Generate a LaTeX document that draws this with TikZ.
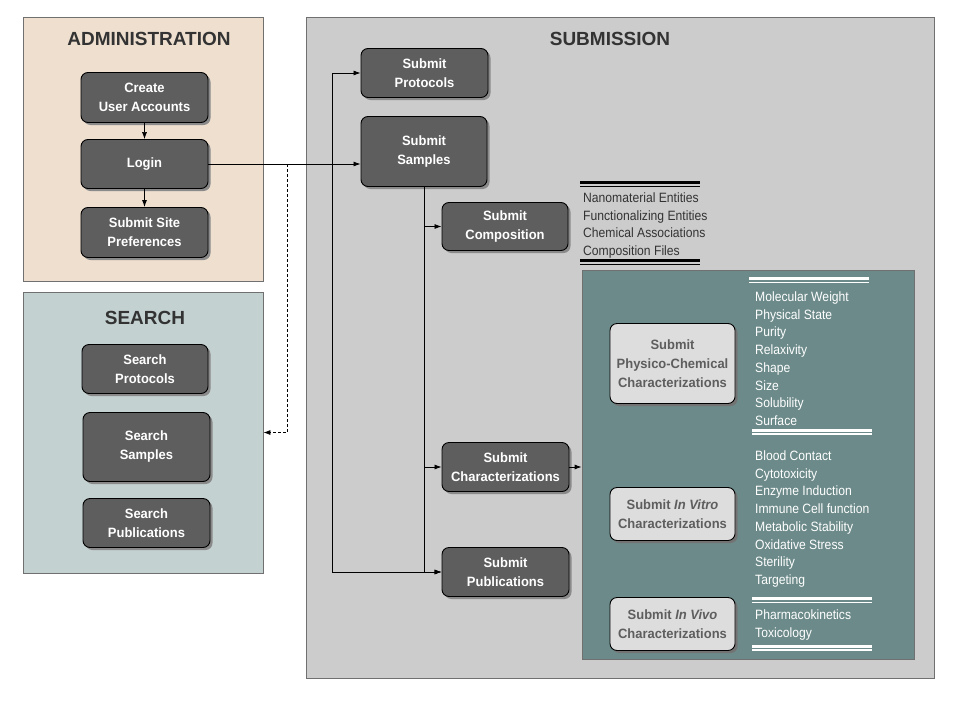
\documentclass[tikz,border=0pt]{standalone}
\usepackage{fontspec}
\setmainfont{Liberation Sans}
\newfontfamily\narrowfont[FakeStretch=0.9]{Liberation Sans}
\newfontfamily\boxfont[FakeStretch=0.96]{Liberation Sans}
\usetikzlibrary{shadows,arrows.meta}
\definecolor{adminbg}{HTML}{EEDFCF}
\definecolor{searchbg}{HTML}{C4D1D1}
\definecolor{subbg}{HTML}{CCCCCC}
\definecolor{tealbg}{HTML}{6B8A89}
\definecolor{boxgray}{HTML}{5E5E5E}
\definecolor{lightbox}{HTML}{DDDDDD}
\definecolor{titlegray}{HTML}{333333}
\definecolor{panelline}{HTML}{707070}
\definecolor{shadowgray}{HTML}{8A8A8A}
\begin{document}
\begin{tikzpicture}[x=1pt,y=-1pt,
  panel/.style={draw=panelline, line width=0.8pt, inner sep=0pt},
  title/.style={font=\bfseries\fontsize{19}{22}\selectfont, text=titlegray, inner sep=0pt},
  darkbox/.style={draw=black, line width=0.9pt, rounded corners=7pt, fill=boxgray,
    text=white, font=\boxfont\bfseries\fontsize{13.5}{19}\selectfont, align=center, inner sep=0pt,
    drop shadow={shadow xshift=2.5pt, shadow yshift=-2.5pt, fill=shadowgray, opacity=1}},
  lightboxst/.style={draw=black, line width=0.9pt, rounded corners=7pt, fill=lightbox,
    text=boxgray, font=\boxfont\bfseries\fontsize{13.5}{19}\selectfont, align=center, inner sep=0pt,
    drop shadow={shadow xshift=2.5pt, shadow yshift=-2.5pt, fill=black!55, opacity=1}},
  conn/.style={line width=0.8pt, -{Latex[length=7pt,width=5pt]}},
  listtext/.style={font=\narrowfont\fontsize{13.5}{17.75}\selectfont, align=left, inner sep=0pt, anchor=north west}
]
\useasboundingbox (0,0) rectangle (960,720);

% panels
\node[panel, fill=adminbg, minimum width=240pt, minimum height=264pt] (adminpanel) at (143,149) {};
\node[panel, fill=searchbg, minimum width=240pt, minimum height=281pt] (searchpanel) at (143,432.5) {};
\node[panel, fill=subbg, minimum width=628pt, minimum height=661pt] (subpanel) at (620,347.5) {};
\node[panel, fill=tealbg, minimum width=332pt, minimum height=389pt] (tealpanel) at (748,464.5) {};

% titles
\node[title] (admintitle) at (149,39) {ADMINISTRATION};
\node[title] (searchtitle) at (145,318) {SEARCH};
\node[title] (subtitle) at (610,39) {SUBMISSION};

% administration boxes
\node[darkbox, minimum width=127pt, minimum height=50pt] (create) at (144.5,97.5) {Create\\User Accounts};
\node[darkbox, minimum width=127pt, minimum height=49pt] (login) at (144.5,164) {Login};
\node[darkbox, minimum width=127pt, minimum height=50pt] (siteprefs) at (144.5,232.5) {Submit Site\\Preferences};

% search boxes
\node[darkbox, minimum width=126pt, minimum height=49pt] (sprot) at (145,369) {Search\\Protocols};
\node[darkbox, minimum width=127pt, minimum height=69pt] (ssamp) at (146.5,447) {Search\\Samples};
\node[darkbox, minimum width=127pt, minimum height=49pt] (spub) at (146.5,523) {Search\\Publications};

% submission boxes
\node[darkbox, minimum width=127pt, minimum height=49pt] (subprot) at (424.5,73) {Submit\\Protocols};
\node[darkbox, minimum width=126pt, minimum height=70pt] (subsamp) at (424,151.5) {Submit\\Samples};
\node[darkbox, minimum width=126pt, minimum height=48pt] (subcomp) at (505,226.5) {Submit\\Composition};
\node[darkbox, minimum width=127pt, minimum height=49pt] (subchar) at (505.5,467) {Submit\\Characterizations};
\node[darkbox, minimum width=127pt, minimum height=49pt] (subpub) at (505.5,572) {Submit\\Publications};

% characterization boxes
\node[lightboxst, minimum width=125pt, minimum height=80pt] (physchem) at (672.5,363.5) {Submit\\Physico-Chemical\\Characterizations};
\node[lightboxst, minimum width=125pt, minimum height=53pt] (invitro) at (672.5,514) {Submit \textit{In Vitro}\\Characterizations};
\node[lightboxst, minimum width=125pt, minimum height=53pt] (invivo) at (672.5,624) {Submit \textit{In Vivo}\\Characterizations};

% composition list with black double rules
\draw[line width=3pt] (580,182.5) -- (700,182.5);
\draw[line width=1.2pt] (580,186.5) -- (700,186.5);
\node[listtext, text=titlegray] (complist) at (583,192.5) {Nanomaterial Entities\\Functionalizing Entities\\Chemical Associations\\Composition Files};
\draw[line width=3pt] (580,260.5) -- (700,260.5);
\draw[line width=1.2pt] (580,264.5) -- (700,264.5);

% teal lists with white double rules
\draw[white, line width=3pt] (749,278.5) -- (869,278.5);
\draw[white, line width=1.2pt] (749,282.5) -- (869,282.5);
\node[listtext, text=white] (physlist) at (755,291.5) {Molecular Weight\\Physical State\\Purity\\Relaxivity\\Shape\\Size\\Solubility\\Surface};
\draw[white, line width=3pt] (752,430) -- (872,430);
\draw[white, line width=1.2pt] (752,434) -- (872,434);
\node[listtext, text=white] (vitrolist) at (755,450.5) {Blood Contact\\Cytotoxicity\\Enzyme Induction\\Immune Cell function\\Metabolic Stability\\Oxidative Stress\\Sterility\\Targeting};
\draw[white, line width=3pt] (752,598.5) -- (872,598.5);
\draw[white, line width=1.2pt] (752,602.5) -- (872,602.5);
\node[listtext, text=white] (vivolist) at (755,610) {Pharmacokinetics\\Toxicology};
\draw[white, line width=3pt] (752,646) -- (872,646);
\draw[white, line width=1.2pt] (752,650) -- (872,650);

% connectors
\coordinate (bus) at (332,164);
\coordinate (dash) at (287,164);
\draw[conn, line width=0.6pt] (create.south) -- (login.north);
\draw[conn] (login.south) -- (siteprefs.north);
\draw[conn] (login.east |- bus) -- (bus -| subsamp.west);
\draw[conn] (bus) |- (subprot.west);
\draw[conn] (bus) |- (subpub.west);
\draw[conn, dashed, dash pattern=on 3pt off 2pt] (dash) |- (searchpanel.east);
\draw[conn] (subsamp.south) |- (subcomp.west);
\draw[conn] (subsamp.south) |- (subchar.west);
\draw[conn] (subsamp.south) |- (subpub.west);
\draw[conn] (subchar.east) -- (subchar.east -| tealpanel.west);
\end{tikzpicture}
\end{document}
